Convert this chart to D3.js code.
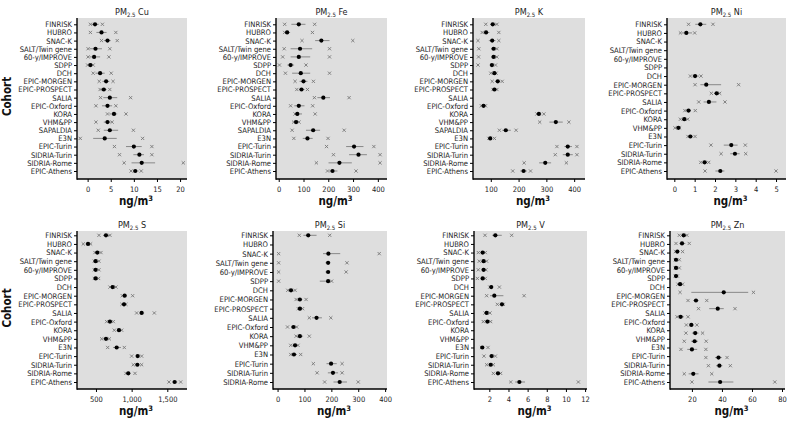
<!DOCTYPE html>
<html>
<head>
<meta charset="utf-8">
<script src="https://cdn.jsdelivr.net/npm/d3@7"></script>
<style>
  body { margin: 0; background: #fff; }
  text { font-family: "Liberation Sans Narrow", "Arial Narrow", "DejaVu Sans Condensed", sans-serif; }
</style>
</head>
<body>
<script>
// cohorts, north to south
var cohorts = ["FINRISK", "HUBRO", "SNAC-K", "SALT/Twin gene", "60-y/IMPROVE", "SDPP", "DCH",
  "EPIC-MORGEN", "EPIC-PROSPECT", "SALIA", "EPIC-Oxford", "KORA", "VHM&PP", "SAPALDIA", "E3N",
  "EPIC-Turin", "SIDRIA-Turin", "SIDRIA-Rome", "EPIC-Athens"];
var cohortsNoSap = cohorts.filter(function (c) { return c !== "SAPALDIA"; });
var cohortsSi = cohortsNoSap.filter(function (c) { return c !== "EPIC-Athens"; });

// each row: [x low, line low, median, line high, x high], ng/m3
var cuValues = [
  [0.6, 0.8, 1.6, 2.4, 3.2], [0.6, 1.9, 3.0, 4.1, 6.1], [3.0, 3.5, 4.3, 5.0, 6.4],
  [0.1, 0.4, 1.7, 3.1, 4.8], [0.1, 0.4, 1.4, 2.7, 4.6], [0.0, 0.1, 0.6, 1.1, 1.2],
  [1.2, 1.7, 2.7, 3.7, 5.1], [2.5, 3.2, 4.0, 4.7, 5.5], [2.7, 2.9, 3.5, 4.1, 4.8],
  [2.8, 3.4, 4.8, 6.4, 9.3], [1.8, 3.1, 4.3, 5.3, 6.1], [4.3, 4.7, 5.7, 6.4, 8.3],
  [1.8, 3.5, 4.3, 5.0, 5.3], [2.3, 3.5, 4.8, 6.6, 9.9], [-1.6, 1.2, 3.7, 6.3, 11.9],
  [5.8, 8.3, 10.0, 11.7, 13.9], [6.9, 9.9, 11.2, 12.2, 13.9], [7.9, 9.5, 11.7, 14.6, 20.7],
  [9.4, 9.9, 10.3, 11.0, 11.6]];
var feValues = [
  [24, 51, 81, 108, 145], [24, 24, 34, 46, 136], [94, 147, 172, 205, 299],
  [22, 48, 86, 135, 205], [16, 48, 81, 127, 205], [3, 35, 48, 62, 110],
  [27, 54, 89, 127, 205], [66, 84, 100, 116, 140], [73, 82, 92, 104, 116],
  [144, 156, 180, 207, 284], [48, 63, 81, 104, 137], [66, 64, 75, 94, 147],
  [60, 63, 70, 77, 82], [54, 110, 139, 167, 264], [61, 97, 116, 137, 199],
  [193, 272, 304, 342, 384], [221, 284, 322, 356, 409], [152, 201, 245, 295, 409],
  [197, 202, 217, 237, 312]];
var kValues = [
  [82, 98, 107, 119, 122], [69, 74, 83, 95, 129], [54, 93, 105, 117, 129],
  [57, 101, 110, 119, 122], [56, 101, 110, 119, 122], [54, 96, 104, 112, 117],
  [100, 107, 113, 119, 119], [105, 116, 125, 134, 141], [108, 106, 113, 120, 122],
  null, [66, 68, 74, 80, 81], [266, 263, 273, 282, 291],
  [276, 311, 334, 359, 381], [131, 141, 154, 172, 191], [93, 93, 98, 104, 113],
  [338, 365, 377, 392, 410], [332, 359, 377, 395, 410], [220, 274, 296, 317, 372],
  [179, 206, 218, 230, 243]];
var niValues = [
  [0.70, 1.03, 1.28, 1.57, 1.90], [0.30, 0.38, 0.59, 0.87, 1.0], null, null, null, null,
  [0.79, 0.89, 1.02, 1.21, 1.31], [1.02, 1.28, 1.57, 2.30, 3.16], [1.82, 1.95, 2.08, 2.18, 2.23],
  [1.20, 1.44, 1.70, 2.07, 2.49], [0.52, 0.60, 0.70, 0.82, 1.03], [0.30, 0.40, 0.49, 0.58, 0.66],
  [0.03, 0.10, 0.20, 0.24, 0.26], [0.67, 0.72, 0.79, 0.90, 1.02], [1.80, 2.43, 2.80, 3.11, 3.49],
  [2.30, 2.75, 2.98, 3.21, 3.51], [1.30, 1.40, 1.49, 1.60, 1.69], [1.51, 2.02, 2.26, 2.46, 5.0]];
var sValues = [
  [542, 600, 640, 690, 696], [322, 355, 388, 420, 425], [486, 500, 519, 540, 570],
  [477, 480, 495, 515, 542], [477, 480, 495, 515, 542], [477, 480, 495, 515, 537],
  [696, 705, 734, 760, 780], [869, 875, 902, 935, 1014], [864, 870, 893, 915, 920],
  [1070, 1110, 1140, 1175, 1318], [650, 670, 696, 725, 743], [757, 800, 822, 850, 860],
  [580, 600, 640, 675, 687], [664, 740, 790, 850, 897], [1000, 1060, 1084, 1110, 1140],
  [1023, 1055, 1080, 1110, 1140], [920, 935, 953, 975, 1047], [1523, 1570, 1603, 1640, 1687]];
var siValues = [
  [81, 96, 114, 145, 194], null, [4, 169, 189, 233, 378],
  [4, 178, 188, 196, 258], [4, 178, 188, 196, 255], [4, 157, 188, 194, 201],
  [38, 42, 50, 58, 65], [69, 75, 83, 92, 106], [77, 78, 83, 90, 93],
  [118, 128, 145, 165, 198], [37, 50, 59, 70, 71], [69, 74, 83, 95, 118],
  [49, 57, 65, 74, 76], [49, 52, 61, 72, 86], [133, 182, 199, 220, 240],
  [147, 187, 206, 225, 240], [175, 208, 231, 258, 300]];
var vValues = [
  [1.55, 2.3, 2.63, 3.3, 4.33], null, [0.85, 1.1, 1.3, 1.5, 1.58],
  [0.95, 1.2, 1.4, 1.6, 1.72], [0.85, 1.2, 1.4, 1.6, 1.65], [0.75, 1.1, 1.3, 1.5, 1.58],
  [2.05, 2.05, 2.2, 2.4, 3.05], [1.72, 2.07, 2.52, 3.47, 5.63], [2.84, 3.1, 3.32, 3.5, 3.46],
  [1.55, 1.6, 1.72, 1.85, 2.07], [1.37, 1.6, 1.8, 2.0, 2.14], null, null,
  [1.2, 1.15, 1.27, 1.4, 1.86], [1.44, 2.0, 2.24, 2.45, 2.63], [1.72, 1.95, 2.14, 2.3, 2.42],
  [2.42, 2.7, 2.9, 3.1, 3.18], [4.23, 4.7, 5.14, 5.73, 11.3]];
// Zn has 19 rows of marks but only 18 cohort labels in the original
var znValues = [
  [11.6, 13, 14.5, 16, 16.7], [9.4, 11.6, 13.4, 15.6, 18.2], [9.0, 9.6, 10.3, 11.6, 13.8],
  [9.0, 9.0, 9.4, 10.2, 11.6], [9.0, 9.0, 9.4, 10.2, 11.6], [9.0, 9.0, 9.4, 10.0, 10.3],
  [10.7, 11.2, 12.1, 13.2, 13.8], [12.1, 19.6, 41.2, 57.5, 61.0], [17.4, 20.9, 22.7, 24.4, 29.9],
  [24.4, 31.5, 37.2, 41.2, 48.7], [10.1, 10.7, 12.5, 14.7, 17.4], [16.3, 18.2, 19.6, 21.3, 23.3],
  [16.0, 20.0, 22.2, 24.4, 27.1], [14.9, 19.5, 21.8, 24.0, 29.5], [12.7, 16.9, 20.0, 23.5, 29.3],
  [29.3, 35.4, 37.7, 39.9, 43.4], [31.0, 36.1, 38.3, 40.3, 45.6], [14.9, 17.8, 20.9, 24.4, 33.2],
  [20.0, 31.0, 38.8, 47.6, 75.2]];

// x tick labels
var cuTicks = [0, 5, 10, 15, 20];
var feTicks = [0, 100, 200, 300, 400];
var kTicks = [100, 200, 300, 400];
var niTicks = [0, 1, 2, 3, 4, 5];
var sTicks = [500, 1000, 1500];
var siTicks = [0, 100, 200, 300, 400];
var vTicks = [2, 4, 6, 8, 10, 12];
var znTicks = [20, 40, 60, 80];

var panels = [
  {el: "Cu", data: cuValues, rows: cohorts, labels: cohorts, ticks: cuTicks, domain: [-2.3, 21.5], px: [77, 187], r: 0},
  {el: "Fe", data: feValues, rows: cohorts, labels: cohorts, ticks: feTicks, domain: [-11, 437], px: [276, 387], r: 0},
  {el: "K", data: kValues, rows: cohorts, labels: cohorts, ticks: kTicks, domain: [36, 439], px: [473, 585], r: 0},
  {el: "Ni", data: niValues, rows: cohortsNoSap, labels: cohortsNoSap, ticks: niTicks, domain: [-0.36, 5.49], px: [667, 786], r: 0},
  {el: "S", data: sValues, rows: cohortsNoSap, labels: cohortsNoSap, ticks: sTicks, domain: [234, 1776], px: [77, 187], r: 1},
  {el: "Si", data: siValues, rows: cohortsSi, labels: cohortsSi, ticks: siTicks, domain: [-17, 407], px: [273, 387], r: 1},
  {el: "V", data: vValues, rows: cohortsNoSap, labels: cohortsNoSap, ticks: vTicks, domain: [0.4, 12.2], px: [474, 587], r: 1},
  {el: "Zn", data: znValues, rows: cohorts, labels: cohortsNoSap, ticks: znTicks, domain: [5.4, 82], px: [670, 785], r: 1}
];

// vertical layout per panel row: plot top, plot bottom, first row, last row
var rowLayout = [
  {top: 18, bottom: 179, first: 24.3, last: 171},
  {top: 231, bottom: 389, first: 235.3, last: 382}
];

var svg = d3.select("body").append("svg")
    .attr("width", 800)
    .attr("height", 423);

panels.forEach(function (p, pi) {
  var L = rowLayout[p.r];
  var g = svg.append("g");

  var xScale = d3.scaleLinear().domain(p.domain).range(p.px);
  var yScale = d3.scalePoint().domain(p.rows).range([L.first, L.last]);
  var yLabels = d3.scalePoint().domain(p.labels).range([L.first, L.last]);

  g.append("rect")
      .attr("x", p.px[0]).attr("y", L.top)
      .attr("width", p.px[1] - p.px[0]).attr("height", L.bottom - L.top)
      .attr("fill", "#dedede");

  var fmt = p.el === "S" ? d3.format(",") : d3.format("");
  var xAxis = g.append("g")
      .attr("transform", "translate(0," + L.bottom + ")")
      .call(d3.axisBottom(xScale).tickValues(p.ticks).tickFormat(fmt).tickSize(3).tickSizeOuter(0));
  xAxis.select(".domain").remove();
  xAxis.selectAll("text").attr("font-size", "7.5px").attr("fill", "#222").attr("dy", "0.9em");

  var yAxis = g.append("g")
      .attr("transform", "translate(" + p.px[0] + ",0)")
      .call(d3.axisLeft(yLabels).tickSize(3).tickSizeOuter(0));
  yAxis.select(".domain").remove();
  yAxis.selectAll("text").attr("font-size", "7.6px").attr("fill", "#222").attr("x", -5);

  // axis lines
  g.append("line")
      .attr("x1", p.px[0]).attr("x2", p.px[0])
      .attr("y1", L.top).attr("y2", L.bottom + 0.7)
      .attr("stroke", "#000").attr("stroke-width", 1.4);
  g.append("line")
      .attr("x1", p.px[0]).attr("x2", p.px[1])
      .attr("y1", L.bottom).attr("y2", L.bottom)
      .attr("stroke", "#000").attr("stroke-width", 1.4);

  var rows = p.data.map(function (d, i) { return {name: p.rows[i], v: d}; })
      .filter(function (d) { return d.v; });

  // interval line
  g.selectAll(".rng").data(rows).enter().append("line")
      .attr("x1", function (d) { return xScale(d.v[1]); })
      .attr("x2", function (d) { return xScale(d.v[3]); })
      .attr("y1", function (d) { return yScale(d.name); })
      .attr("y2", function (d) { return yScale(d.name); })
      .attr("stroke", "#888").attr("stroke-width", 1);

  // x marks at both ends
  var s = 1.6;
  [0, 4].forEach(function (k) {
    g.selectAll(".mk" + k).data(rows).enter().append("path")
        .attr("d", function (d) {
          var cx = xScale(d.v[k]), cy = yScale(d.name);
          return "M" + (cx - s) + "," + (cy - s) + "L" + (cx + s) + "," + (cy + s) +
                 "M" + (cx - s) + "," + (cy + s) + "L" + (cx + s) + "," + (cy - s);
        })
        .attr("stroke", "#777").attr("stroke-width", 0.9).attr("fill", "none");
  });

  // median dot
  g.selectAll(".dot").data(rows).enter().append("circle")
      .attr("cx", function (d) { return xScale(d.v[2]); })
      .attr("cy", function (d) { return yScale(d.name); })
      .attr("r", 2.1)
      .attr("fill", "#000");

  // title
  var cx = (p.px[0] + p.px[1]) / 2;
  var t = g.append("text")
      .attr("x", cx).attr("y", L.top - 3)
      .attr("text-anchor", "middle")
      .attr("font-size", "9px").attr("fill", "#222");
  t.append("tspan").text("PM");
  t.append("tspan").attr("font-size", "6px").attr("dy", "2").text("2.5");
  t.append("tspan").attr("dy", "-2").text(" " + p.el);

  // unit label
  var u = g.append("text")
      .attr("x", cx + 4).attr("y", L.bottom + 26)
      .attr("text-anchor", "middle")
      .attr("font-size", "11.5px").attr("font-weight", "bold").attr("fill", "#111");
  u.append("tspan").text("ng/m");
  u.append("tspan").attr("font-size", "7.5px").attr("dy", "-4").text("3");

  if (pi % 4 === 0) {
    svg.append("text")
        .attr("transform", "translate(11," + ((L.top + L.bottom) / 2 - 2) + ") rotate(-90)")
        .attr("text-anchor", "middle")
        .attr("font-size", "11.5px").attr("font-weight", "bold").attr("fill", "#111")
        .text("Cohort");
  }
});
</script>
</body>
</html>
